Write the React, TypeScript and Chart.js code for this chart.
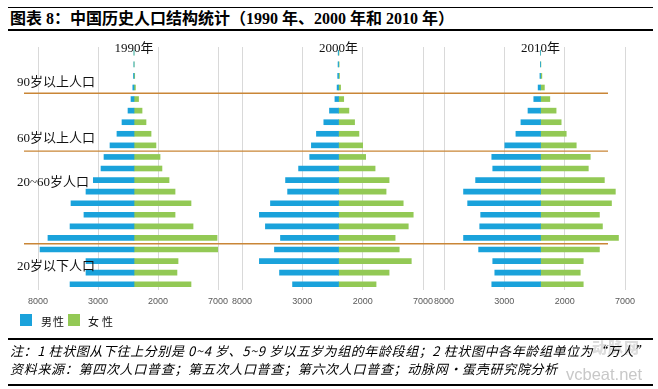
import React, { useEffect, useRef } from 'react';
import { Chart, registerables } from 'chart.js';

Chart.register(...registerables);

// ---------- data (万人) ----------
const AGE_GROUPS = [
  '0-4', '5-9', '10-14', '15-19', '20-24', '25-29', '30-34', '35-39', '40-44', '45-49',
  '50-54', '55-59', '60-64', '65-69', '70-74', '75-79', '80-84', '85-89', '90-94', '95-99', '100+',
];

const MALE_1990 = [5330, 4000, 4000, 7830, 7170, 5330, 4170, 5250, 4000, 3390, 2750, 2500, 2000, 1420, 1000, 500, 250, 100, 40, 8, 2];
const FEMALE_1990 = [4750, 3580, 3670, 7500, 6920, 4920, 3420, 4750, 3420, 2920, 2330, 2170, 1830, 1420, 1000, 670, 380, 120, 60, 15, 4];

const MALE_2000 = [3810, 4890, 6560, 5310, 4810, 6060, 6560, 5640, 4220, 4390, 3310, 2390, 2250, 1830, 1220, 750, 300, 120, 70, 40, 30];
const FEMALE_2000 = [3110, 4190, 6030, 5030, 4690, 5780, 6190, 5360, 3940, 4190, 3030, 2250, 2000, 1690, 1330, 860, 430, 170, 80, 50, 40];

const MALE_2010 = [4040, 3790, 3960, 5130, 6380, 5040, 4960, 6040, 6380, 5380, 3960, 4040, 2960, 2040, 1625, 1040, 560, 200, 50, 12, 1];
const FEMALE_2010 = [3540, 3290, 3540, 4880, 6460, 5130, 4880, 5880, 6200, 5290, 3960, 4120, 2960, 2130, 1710, 1290, 770, 320, 110, 30, 3];

const PANEL_TITLES = ['1990年', '2000年', '2010年'];
const TICK_VALUES = [-8000, -3000, 2000, 7000];
const SERIES_NAMES = ['男性', '女性'];
const GROUP_LABELS = ['90岁以上人口', '60岁以上人口', '20~60岁人口', '20岁以下人口'];
// boundaries between category index i and i+1
const GROUP_BOUNDARIES = [3, 11, 16];

const TITLE = '图表 8：中国历史人口结构统计（1990 年、2000 年和 2010 年）';
const NOTE_1 = '注：1 柱状图从下往上分别是 0~4 岁、5~9 岁以五岁为组的年龄段组；2 柱状图中各年龄组单位为“万人”';
const NOTE_2 = '资料来源：第四次人口普查；第五次人口普查；第六次人口普查；动脉网·蛋壳研究院分析';

// ---------- styles ----------
const W = 658;
const H = 389;
const BLUE = '#1AA2DB';
const GREEN = '#93C955';
const ORANGE = '#C98636';
const CJK = '"Noto Sans CJK SC", sans-serif';
const SERIF_MIX = '"Liberation Serif", "Noto Sans CJK SC", serif';
const PLOT_TOP = 47;
const PLOT_BOTTOM = 290;
const AXIS_H = 20;

const PANELS = [
  { left: 38, right: 218, male: MALE_1990, female: FEMALE_1990 },
  { left: 242, right: 423, male: MALE_2000, female: FEMALE_2000 },
  { left: 444, right: 625, male: MALE_2010, female: FEMALE_2010 },
];

const groupLinesPlugin = {
  id: 'groupLines',
  afterDraw(chart: any) {
    const y = chart.scales.y;
    const ctx = chart.ctx;
    ctx.save();
    ctx.strokeStyle = ORANGE;
    ctx.lineWidth = 1.4;
    GROUP_BOUNDARIES.forEach((i) => {
      const py = (y.getPixelForValue(i) + y.getPixelForValue(i + 1)) / 2;
      ctx.beginPath();
      ctx.moveTo(24, py);
      ctx.lineTo(608, py);
      ctx.stroke();
    });
    ctx.restore();
  },
};

function makeChart(canvas: HTMLCanvasElement, p: any, withLines: boolean) {
  return new Chart(canvas, {
    type: 'bar',
    data: {
      labels: AGE_GROUPS,
      datasets: [
        { label: SERIES_NAMES[0], data: p.male.map((v: number) => -v), backgroundColor: BLUE, barThickness: 5 },
        { label: SERIES_NAMES[1], data: p.female, backgroundColor: GREEN, barThickness: 5 },
      ],
    },
    options: {
      indexAxis: 'y',
      responsive: false,
      maintainAspectRatio: false,
      animation: false,
      events: [],
      layout: {
        padding: { left: p.left, right: W - p.right, top: PLOT_TOP, bottom: H - PLOT_BOTTOM - AXIS_H },
      },
      plugins: { legend: { display: false }, tooltip: { enabled: false } },
      scales: {
        x: {
          type: 'linear',
          min: -8000,
          max: 7000,
          stacked: true,
          afterBuildTicks: (s: any) => {
            s.ticks = TICK_VALUES.map((v) => ({ value: v }));
          },
          afterFit: (s: any) => {
            s.height = AXIS_H;
          },
          grid: { color: '#D9D9D9', drawTicks: false, lineWidth: 1 },
          border: { display: false },
          ticks: {
            callback: (v: any) => String(Math.abs(Number(v))),
            font: { size: 9, family: '"Liberation Sans", sans-serif' },
            color: '#595959',
            padding: 6,
            autoSkip: false,
            maxRotation: 0,
          },
        },
        y: {
          type: 'category',
          display: false,
          stacked: true,
          reverse: true,
          grid: { display: false },
        },
      },
    } as any,
    plugins: withLines ? [groupLinesPlugin] : [],
  });
}

const abs = (s: React.CSSProperties): React.CSSProperties => ({ position: 'absolute', whiteSpace: 'nowrap', ...s });

export default function App() {
  const c1 = useRef<HTMLCanvasElement>(null);
  const c2 = useRef<HTMLCanvasElement>(null);
  const c3 = useRef<HTMLCanvasElement>(null);

  useEffect(() => {
    const refs = [c1, c2, c3];
    const charts = PANELS.map((p, i) => makeChart(refs[i].current as HTMLCanvasElement, p, i === 2));
    return () => charts.forEach((c) => c.destroy());
  }, []);

  const canvasStyle: React.CSSProperties = { position: 'absolute', left: 0, top: 0, width: W, height: H };
  const panelCenters = PANELS.map((p) => p.left + ((p.right - p.left) * 8) / 15);
  const labelYs = [82, 138, 182, 266];

  return (
    <div style={{ position: 'absolute', left: 0, top: 0, width: W, height: H, background: '#fff', overflow: 'hidden' }}>
      {/* title */}
      <div style={abs({ left: 8, top: 7, width: 645, height: 1, background: '#000' })} />
      <div style={abs({ left: 10, top: 9, height: 20, lineHeight: '20px', fontFamily: SERIF_MIX, fontWeight: 700, fontSize: 16, color: '#000' })}>
        {TITLE}
      </div>
      <div style={abs({ left: 8, top: 29, width: 645, height: 1.5, background: '#000' })} />

      {/* charts */}
      <canvas ref={c1} width={W} height={H} style={canvasStyle} />
      <canvas ref={c2} width={W} height={H} style={canvasStyle} />
      <canvas ref={c3} width={W} height={H} style={canvasStyle} />

      {/* panel titles */}
      {PANEL_TITLES.map((t, i) => (
        <div key={t} style={abs({ left: panelCenters[i], top: 39.5, transform: 'translateX(-50%)', lineHeight: '16px', fontFamily: SERIF_MIX, fontSize: 13, color: '#111' })}>
          {t}
        </div>
      ))}

      {/* group labels */}
      {GROUP_LABELS.map((t, i) => (
        <div key={t} style={abs({ left: 17, top: labelYs[i] - 8, lineHeight: '16px', fontFamily: SERIF_MIX, fontSize: 13, color: '#111' })}>
          {t}
        </div>
      ))}

      {/* legend */}
      <div style={abs({ left: 20, top: 314, width: 12, height: 12, background: BLUE })} />
      <div style={abs({ left: 41, top: 313, lineHeight: '16px', fontFamily: CJK, fontSize: 11, letterSpacing: 1, color: '#111' })}>{SERIES_NAMES[0]}</div>
      <div style={abs({ left: 68, top: 314, width: 12, height: 12, background: GREEN })} />
      <div style={abs({ left: 88, top: 313, lineHeight: '16px', fontFamily: CJK, fontSize: 11, letterSpacing: 3, color: '#111' })}>{SERIES_NAMES[1]}</div>

      {/* watermark */}
      <div style={abs({ left: 592, top: 338, lineHeight: '18px', fontFamily: CJK, fontWeight: 900, fontSize: 15, letterSpacing: 1, color: '#DDDDDD' })}>动脉网</div>
      <div style={abs({ left: 566, top: 365, lineHeight: '18px', fontFamily: '"Liberation Sans", sans-serif', fontSize: 16.5, color: '#C8C8C8' })}>vcbeat.net</div>

      {/* notes */}
      <div style={abs({ left: 8, top: 338, width: 645, height: 1.5, background: '#000' })} />
      <div style={abs({ left: 10, top: 343, lineHeight: '16px', fontFamily: CJK, fontStyle: 'italic', fontSize: 13, letterSpacing: 0.6, color: '#000' })}>
        {NOTE_1}
      </div>
      <div style={abs({ left: 10, top: 361, lineHeight: '16px', fontFamily: CJK, fontStyle: 'italic', fontSize: 13, letterSpacing: 0.7, color: '#000' })}>
        {NOTE_2}
      </div>
      <div style={abs({ left: 8, top: 384, width: 645, height: 1.5, background: '#000' })} />
    </div>
  );
}
